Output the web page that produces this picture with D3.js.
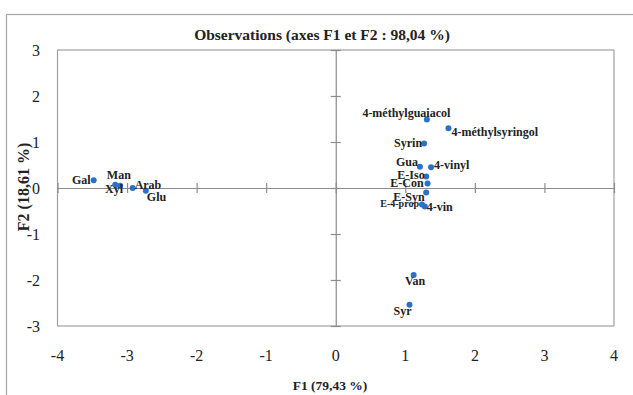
<!DOCTYPE html>
<html>
<head>
<meta charset="utf-8">
<script src="https://cdn.jsdelivr.net/npm/d3@7"></script>
<style>
  html, body { margin: 0; padding: 0; background: #fff; }
  svg { display: block; }
</style>
</head>
<body>
<svg id="chart" width="633" height="395"></svg>
<script>
// Observations projected on the first two factorial axes
const names = ["Gal", "Man", "Xyl", "Arab", "Glu",
  "4-méthylguaiacol", "4-méthylsyringol", "Syrin", "Gua", "4-vinyl",
  "E-Iso", "E-Con", "E-Syn", "E-4-prop", "4-vin", "Van", "Syr"];
const f1 = [-3.48, -3.17, -3.10, -2.92, -2.73,
  1.31, 1.62, 1.27, 1.21, 1.37,
  1.30, 1.32, 1.30, 1.24, 1.28, 1.12, 1.06];
const f2 = [0.17, 0.07, 0.05, 0.00, -0.06,
  1.49, 1.30, 0.97, 0.46, 0.45,
  0.25, 0.10, -0.10, -0.36, -0.40, -1.89, -2.54];
const xTicks = [-4, -3, -2, -1, 0, 1, 2, 3, 4];
const yTicks = [-3, -2, -1, 0, 1, 2, 3];

const titleText = "Observations (axes F1 et F2 : 98,04 %)";
const xTitle = "F1 (79,43 %)";
const yTitle = "F2 (18,61 %)";

// label placement around each point: [anchor, dx, dy]
const place = {
  "Gal": ["end", -3, 4],
  "Man": ["middle", 3.6, -5.5],
  "Xyl": ["middle", -6, 7.5],
  "Arab": ["start", 2, 0.5],
  "Glu": ["start", 1, 10],
  "4-méthylguaiacol": ["middle", -20.5, -2.5],
  "4-méthylsyringol": ["start", 3, 7.5],
  "Syrin": ["end", -2, 4],
  "Gua": ["end", -2, -1],
  "4-vinyl": ["start", 3, 2],
  "E-Iso": ["end", -1.5, 2.5],
  "E-Con": ["end", -4, 4],
  "E-Syn": ["end", -1.5, 8],
  "E-4-prop": ["end", -3, 2],
  "4-vin": ["start", 2, 5],
  "Van": ["middle", 1.5, 10],
  "Syr": ["end", 2, 10]
};

const serif = "'Liberation Serif', 'Times New Roman', serif";
const svg = d3.select("#chart");

// outer chart frame (runs past the window edge)
svg.append("rect")
  .attr("x", 6.5).attr("y", 14.5)
  .attr("width", 700).attr("height", 500)
  .attr("fill", "none").attr("stroke", "#a6a6a6").attr("stroke-width", 1.2);

const plotL = 57.5, plotR = 614, plotT = 50, plotB = 326;
const x = d3.scaleLinear().domain([-4, 4]).range([plotL, plotR]);
const y = d3.scaleLinear().domain([-3, 3]).range([plotB, plotT]);

// plot area border
svg.append("rect")
  .attr("x", plotL).attr("y", plotT)
  .attr("width", plotR - plotL).attr("height", plotB - plotT)
  .attr("fill", "none").attr("stroke", "#a0a0a0").attr("stroke-width", 1.2);

// axes through the origin with crossing tick marks
const xAxis = svg.append("g").attr("transform", `translate(0,${y(0)})`)
  .call(d3.axisBottom(x).tickValues(xTicks).tickSize(5).tickSizeOuter(0).tickFormat(""));
xAxis.selectAll(".tick line").attr("y1", -5);
const yAxis = svg.append("g").attr("transform", `translate(${x(0)},0)`)
  .call(d3.axisLeft(y).tickValues(yTicks).tickSize(5).tickSizeOuter(0).tickFormat(""));
yAxis.selectAll(".tick line").attr("x1", 5);
svg.selectAll(".domain, .tick line").attr("stroke", "#8c8c8c").attr("stroke-width", 1.2);

// tick labels along the plot edges
svg.append("g").selectAll("text").data(xTicks).join("text")
  .attr("x", d => x(d)).attr("y", 361)
  .attr("text-anchor", "middle")
  .attr("font-family", serif).attr("font-size", 16).attr("fill", "#222")
  .text(d => d);
svg.append("g").selectAll("text").data(yTicks).join("text")
  .attr("x", 40).attr("y", d => y(d) + 5.5)
  .attr("text-anchor", "end")
  .attr("font-family", serif).attr("font-size", 16).attr("fill", "#222")
  .text(d => d);

// titles
svg.append("text").attr("x", 322).attr("y", 40).attr("text-anchor", "middle")
  .attr("font-family", serif).attr("font-weight", "bold").attr("font-size", 15.5)
  .attr("fill", "#222").text(titleText);
svg.append("text").attr("x", 330).attr("y", 389.5).attr("text-anchor", "middle")
  .attr("font-family", serif).attr("font-weight", "bold").attr("font-size", 13.5)
  .attr("fill", "#222").text(xTitle);
svg.append("text").attr("transform", `translate(29,${y(0) - 1}) rotate(-90)`)
  .attr("text-anchor", "middle")
  .attr("font-family", serif).attr("font-weight", "bold").attr("font-size", 16)
  .attr("fill", "#222").text(yTitle);

// points and their labels
const pts = names.map((n, i) => ({ name: n, a: f1[i], b: f2[i] }));
svg.append("g").selectAll("circle").data(pts).join("circle")
  .attr("cx", d => x(d.a)).attr("cy", d => y(d.b)).attr("r", 3)
  .attr("fill", "#2a72c6");
svg.append("g").selectAll("text").data(pts).join("text")
  .attr("x", d => x(d.a) + place[d.name][1])
  .attr("y", d => y(d.b) + place[d.name][2])
  .attr("text-anchor", d => place[d.name][0])
  .attr("font-family", serif).attr("font-weight", "bold")
  .attr("font-size", d => d.name === "E-4-prop" ? 10 : 12)
  .attr("fill", "#222")
  .text(d => d.name);
</script>
</body>
</html>
